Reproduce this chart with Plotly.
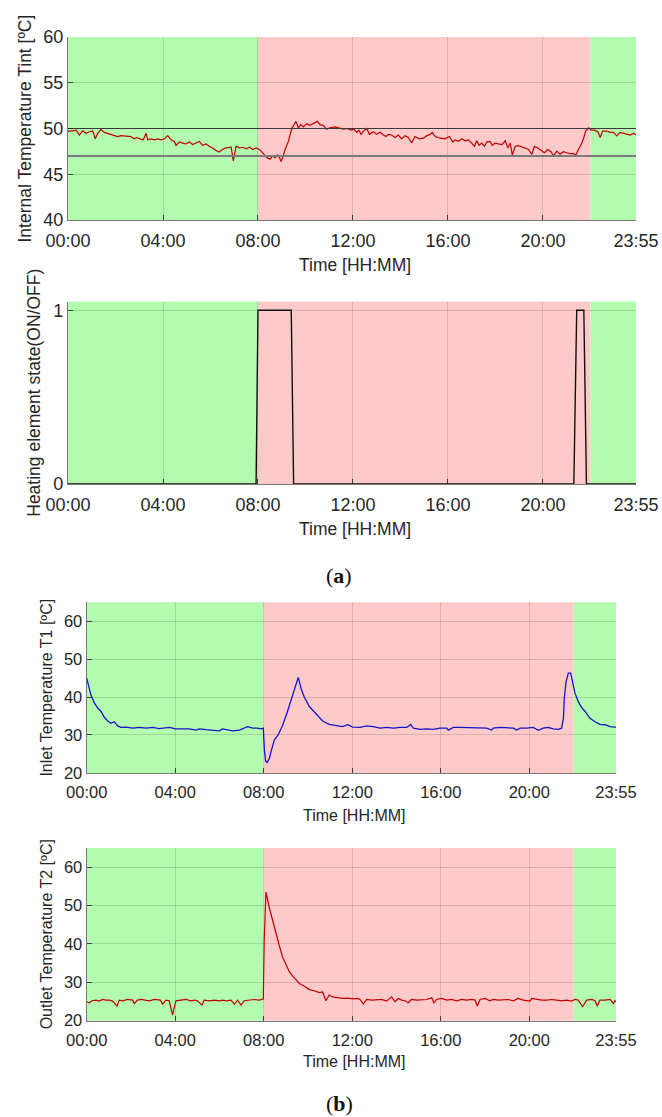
import plotly.graph_objects as go

W, H = 662, 1117
X_END = 23 + 55 / 60
tick_vals = [0, 4, 8, 12, 16, 20, X_END]
tick_text = ["00:00", "04:00", "08:00", "12:00", "16:00", "20:00", "23:55"]

# tariff periods (green = off-peak, red = peak)
period_edges = [0, 8, 22, X_END]
period_colors = ["#B3FBAE", "#FDC9C9", "#B3FBAE"]

# Panel (a) top: internal temperature
t_int = [0.00, 0.06, 0.20, 0.34, 0.48, 0.62, 0.76, 0.90, 1.04, 1.15, 1.25, 1.39, 1.53, 1.67, 1.81, 1.95,
         2.09, 2.23, 2.37, 2.51, 2.65, 2.79, 2.89, 3.03, 3.17, 3.29, 3.36, 3.50, 3.64, 3.78, 3.92, 4.06,
         4.20, 4.34, 4.48, 4.55, 4.69, 4.83, 4.97, 5.11, 5.25, 5.39, 5.53, 5.67, 5.81, 5.95, 6.09, 6.23,
         6.36, 6.50, 6.65, 6.87, 6.96, 7.08, 7.22, 7.36, 7.50, 7.64, 7.78, 7.92, 8.06,
         8.23, 8.37, 8.51, 8.62, 8.72, 8.82, 8.90, 8.97, 9.04, 9.14, 9.28, 9.42, 9.49, 9.60, 9.70,
         9.80, 9.91, 10.05, 10.19, 10.33, 10.50, 10.61, 10.75, 10.89, 11.03, 11.24, 11.45, 11.59, 11.76,
         11.90, 12.04, 12.16, 12.25, 12.34, 12.44, 12.58, 12.69, 12.86, 13.00, 13.14, 13.28, 13.39, 13.49,
         13.63, 13.77, 13.91, 14.05, 14.19, 14.33, 14.47, 14.61, 14.80, 14.96, 15.11, 15.25, 15.34, 15.46,
         15.67, 15.88, 16.06, 16.20,
         16.30, 16.44, 16.58, 16.72, 16.86, 17.00, 17.11, 17.21, 17.31, 17.42, 17.54, 17.63, 17.77, 17.87,
         17.98, 18.13, 18.27, 18.41, 18.52, 18.62, 18.71, 18.83, 18.97, 19.11, 19.25, 19.39, 19.53, 19.64,
         19.78, 19.92, 20.06, 20.20, 20.34, 20.44, 20.58, 20.72, 20.86, 21.00, 21.14, 21.28, 21.38, 21.49,
         21.61, 21.71, 21.80, 21.92, 22.03, 22.17, 22.31, 22.41, 22.51, 22.69, 22.83, 22.97, 23.11, 23.25,
         23.39, 23.53, 23.67, 23.81, 23.92]
v_int = [49.65, 49.75, 49.75, 49.82, 49.29, 49.75, 49.47, 49.65, 49.72, 48.87, 49.47, 49.89, 49.58, 49.47, 49.36, 49.29,
         49.12, 49.22, 49.19, 49.12, 49.12, 48.87, 49.01, 48.87, 48.76, 49.47, 48.76, 48.87, 48.76, 48.87, 48.76, 48.87,
         49.22, 48.76, 48.59, 48.16, 48.52, 48.41, 48.31, 48.52, 48.24, 48.41, 48.59, 48.16, 48.31, 48.06, 47.88, 47.60,
         47.42, 47.71, 47.88, 47.95, 46.47, 48.06, 47.88, 47.95, 47.78, 47.95, 47.71, 47.88, 47.71,
         47.25, 46.82, 46.65, 47.00, 46.82, 47.11, 46.82, 46.40, 46.82, 47.70, 48.59, 50.00, 50.28, 50.78, 50.07,
         50.42, 50.18, 50.53, 50.35, 50.53, 50.78, 50.42, 50.35, 49.93, 50.07, 50.18, 50.07, 49.93, 50.00,
         49.82, 49.93, 49.58, 49.82, 49.36, 49.72, 50.00, 49.36, 49.65, 49.36, 49.58, 49.29, 49.12, 49.36,
         49.29, 49.01, 49.29, 48.87, 49.22, 49.01, 48.41, 49.12, 48.87, 48.94, 49.22, 49.36, 49.58, 49.12,
         48.94, 48.87, 49.12, 48.52,
         48.76, 48.59, 48.87, 48.66, 48.76, 48.41, 48.06, 48.66, 48.16, 48.41, 48.06, 48.52, 48.59, 48.16,
         48.41, 48.31, 48.24, 48.66, 47.88, 48.41, 47.10, 48.06, 48.13, 47.99, 47.88, 47.71, 47.18, 48.06,
         47.88, 47.60, 47.35, 47.71, 47.46, 47.00, 47.53, 47.18, 47.46, 47.35, 47.25, 47.25, 47.10, 47.71,
         48.24, 48.94, 49.72, 50.07, 49.82, 49.82, 49.65, 49.01, 49.72, 49.72, 49.58, 49.58, 49.19, 49.58,
         49.47, 49.36, 49.29, 49.47, 49.29]
limit_high = 50
limit_low = 47

# Panel (a) bottom: heating element state
t_heat = [0, 7.92, 8.00, 9.40, 9.50, 21.30, 21.42, 21.72, 21.83, X_END]
v_heat = [0, 0, 1, 1, 0, 0, 1, 1, 0, 0]

# Panel (b) top: inlet temperature T1
t_in = [0.00, 0.09, 0.19, 0.35, 0.50, 0.65, 0.80, 0.95, 1.10, 1.25, 1.40, 1.55, 1.78, 2.08, 2.38, 2.68,
        2.98, 3.28, 3.58, 3.73, 4.03, 4.34, 4.64, 4.94, 5.09, 5.39, 5.69, 5.99, 6.14, 6.44, 6.59, 6.90,
        7.12, 7.27, 7.50, 7.72, 7.87, 7.98, 8.03, 8.08, 8.15, 8.25, 8.35, 8.48, 8.65, 8.85, 9.05, 9.25,
        9.43, 9.56, 9.70, 9.83, 10.06, 10.36, 10.66, 10.96, 11.26, 11.56, 11.79, 12.02, 12.35, 12.65,
        12.95, 13.25, 13.55, 13.86, 14.16, 14.46, 14.58, 14.64, 14.76, 15.06, 15.36, 15.66, 15.96, 16.27,
        16.34, 16.57, 16.87, 17.17, 17.47, 17.77, 18.07, 18.30, 18.37, 18.68, 18.98, 19.28, 19.43, 19.58,
        19.88, 20.18, 20.41, 20.63, 20.86, 21.08, 21.31, 21.46, 21.54, 21.58, 21.66, 21.76, 21.87, 21.96,
        22.06, 22.21, 22.36, 22.52, 22.74, 22.97, 23.19, 23.42, 23.65, 23.87, 23.92]
v_in = [45.0, 42.8, 40.6, 38.4, 37.1, 36.2, 34.6, 33.7, 33.1, 33.5, 32.4, 32.0, 32.1, 31.8, 32.0, 31.8,
        32.0, 31.7, 31.8, 32.0, 31.6, 31.5, 31.6, 31.3, 31.6, 31.4, 31.3, 31.1, 31.6, 31.3, 31.1, 31.3,
        31.8, 32.2, 31.8, 31.8, 31.6, 31.8, 26.0, 23.2, 22.7, 23.8, 26.0, 28.7, 30.0, 32.5, 35.8, 39.5,
        42.8, 45.2, 42.0, 40.0, 37.5, 35.7, 33.7, 32.8, 32.5, 32.2, 32.7, 32.1, 32.0, 32.4,
        32.2, 31.8, 32.0, 31.8, 32.0, 32.0, 32.5, 32.8, 31.8, 31.5, 31.6, 31.5, 31.8, 31.8,
        31.3, 32.0, 32.0, 32.0, 31.9, 31.8, 31.8, 31.3, 31.8, 32.0, 32.0, 31.8, 31.3, 31.8,
        31.8, 32.0, 31.25, 31.8, 32.0, 31.6, 31.5, 31.8, 34.4, 39.7, 44.0, 46.3, 46.3, 44.0,
        41.1, 38.8, 37.3, 36.2, 34.4, 33.5, 32.8, 32.7, 32.2, 32.1, 32.1]

# Panel (b) bottom: outlet temperature T2
t_out = [0.00, 0.12, 0.24, 0.42, 0.57, 0.72, 0.87, 1.02, 1.17, 1.37, 1.47, 1.63, 1.85, 2.08, 2.15, 2.30,
         2.45, 2.60, 2.83, 3.06, 3.33, 3.43, 3.58, 3.73, 3.88, 4.03, 4.26, 4.49, 4.71, 4.86, 5.01, 5.21,
         5.31, 5.54, 5.77, 5.99, 6.14, 6.29, 6.52, 6.67, 6.82, 6.97, 7.12, 7.35, 7.57, 7.80, 7.98, 8.02,
         8.06, 8.10, 8.25, 8.40, 8.55, 8.70, 8.85, 9.00, 9.16, 9.31, 9.46, 9.61, 9.83, 10.06, 10.28, 10.51,
         10.66, 10.81, 10.96, 11.11, 11.34, 11.56, 11.79, 12.02, 12.24, 12.35, 12.50, 12.65, 12.88, 13.10,
         13.33, 13.55, 13.78, 13.93, 14.08, 14.23, 14.38, 14.53, 14.68, 14.91, 15.14, 15.36, 15.59, 15.69,
         15.81, 16.04, 16.27, 16.49, 16.72, 16.94, 17.17, 17.40, 17.55, 17.65, 17.77, 18.00, 18.22, 18.37,
         18.60, 18.83, 19.05, 19.28, 19.50, 19.73, 19.88, 20.03, 20.11, 20.33, 20.56, 20.78, 21.01, 21.24,
         21.46, 21.69, 21.91, 22.06, 22.21, 22.41, 22.59, 22.82, 22.97, 23.07, 23.19, 23.42, 23.65, 23.80,
         23.87, 23.92]
v_out = [24.93, 24.67, 25.19, 25.36, 25.10, 25.53, 25.36, 25.36, 25.10, 23.81, 25.36, 25.19, 25.53, 25.36, 24.50, 25.36,
         25.53, 25.36, 25.19, 25.53, 25.36, 24.33, 25.36, 25.19, 21.5, 25.19, 25.36, 25.53, 25.19, 25.36, 25.19, 24.07,
         25.36, 25.19, 25.36, 25.19, 25.36, 25.19, 25.36, 24.33, 25.36, 24.07, 25.19, 25.36, 25.53, 25.36, 25.62, 40.9,
         51.7, 53.5, 49.5, 46.0, 42.6, 39.6, 36.6, 34.8, 32.7, 31.6, 30.5, 29.7, 29.0, 28.1, 27.8, 27.3,
         27.5, 25.2, 26.7, 26.2, 26.0, 25.8, 25.9, 25.7, 25.8, 25.53, 24.33, 25.53, 25.36, 25.36,
         25.53, 25.10, 26.22, 24.93, 25.79, 25.36, 25.19, 24.67, 25.53, 25.36, 25.36, 25.53, 25.96, 24.67,
         25.53, 25.79, 25.36, 25.53, 25.19, 25.53, 25.36, 25.53, 25.36, 23.81, 25.53, 25.79, 25.19, 25.53,
         25.36, 25.36, 25.53, 25.19, 25.79, 25.36, 25.19, 25.10, 25.79, 25.53, 25.36, 25.36, 25.53, 25.36,
         25.19, 25.36, 25.10, 25.53, 25.36, 23.64, 25.36, 25.53, 25.19, 23.81, 25.36, 25.36, 25.53, 24.50,
         25.19, 24.90]

assert len(t_int) == len(v_int), (len(t_int), len(v_int))
assert len(t_in) == len(v_in), (len(t_in), len(v_in))
assert len(t_out) == len(v_out), (len(t_out), len(v_out))

FONT = "Liberation Sans"
TXT = "#262626"


def dx(a, b):
    return [a / W, b / W]


def dy(top, bottom):
    return [1 - bottom / H, 1 - top / H]


panels = [
    dict(x=(68, 636), y=(37, 220), yr=[40, 60], yt=[40, 45, 50, 55, 60],
         ylab="Internal Temperature Tint [ºC]", fs=18, ylx=24, xt=265),
    dict(x=(68, 636), y=(301.5, 484), yr=[0, 1.05], yt=[0, 1],
         ylab="Heating element state(ON/OFF)", fs=18, ylx=34, xt=529),
    dict(x=(86.7, 616), y=(602.3, 772.9), yr=[20, 65], yt=[20, 30, 40, 50, 60],
         ylab="Inlet Temperature T1 [ºC]", fs=16.5, ylx=47, xt=815),
    dict(x=(86.7, 616), y=(848, 1020.7), yr=[20, 65], yt=[20, 30, 40, 50, 60],
         ylab="Outlet Temperature T2 [ºC]", fs=16.5, ylx=46, xt=1061),
]

fig = go.Figure()
layout = dict(width=W, height=H, margin=dict(l=0, r=0, t=0, b=0, autoexpand=False),
              paper_bgcolor="white", plot_bgcolor="white", showlegend=False,
              font=dict(family=FONT, color=TXT))
shapes = []
annotations = []

series = [
    (t_int, v_int, "#C00000", 1.2),
    (t_heat, v_heat, "#111111", 1.4),
    (t_in, v_in, "#1414C8", 1.3),
    (t_out, v_out, "#C00000", 1.2),
]

for i, p in enumerate(panels):
    n = "" if i == 0 else str(i + 1)
    xa, ya = "x" + n, "y" + n
    layout["xaxis" + n] = dict(
        domain=dx(*p["x"]), range=[0, X_END], anchor=ya, automargin=False,
        tickmode="array", tickvals=tick_vals, ticktext=tick_text,
        ticks="inside", ticklen=5, tickcolor="rgba(30,30,30,0.8)", tickwidth=1,
        showgrid=True, gridcolor="rgba(0,0,0,0.13)", gridwidth=1,
        showline=True, linecolor="rgba(30,30,30,0.6)", linewidth=1.3,
        zeroline=False, tickfont=dict(size=p["fs"], color=TXT, family=FONT),
        ticklabelstandoff=4, fixedrange=True)
    layout["yaxis" + n] = dict(
        domain=dy(*p["y"]), range=p["yr"], anchor=xa, automargin=False,
        tickmode="array", tickvals=p["yt"],
        ticks="inside", ticklen=5, tickcolor="rgba(30,30,30,0.8)", tickwidth=1,
        showgrid=True, gridcolor="rgba(0,0,0,0.13)", gridwidth=1,
        showline=True, linecolor="rgba(30,30,30,0.6)", linewidth=1.3,
        zeroline=False, tickfont=dict(size=p["fs"], color=TXT, family=FONT),
        fixedrange=True)
    for k in range(3):
        shapes.append(dict(type="rect", xref=xa, yref=ya + " domain",
                           x0=period_edges[k], x1=period_edges[k + 1], y0=0, y1=1,
                           fillcolor=period_colors[k], line=dict(width=0), layer="below"))
    tx, tv, col, lw = series[i]
    fig.add_trace(go.Scatter(x=tx, y=tv, mode="lines", xaxis=xa, yaxis=ya,
                             line=dict(color=col, width=lw), hoverinfo="skip"))
    xc = (p["x"][0] + p["x"][1]) / 2
    annotations.append(dict(text="Time [HH:MM]", xref="paper", yref="paper",
                            x=(xc + 3) / W, y=1 - p["xt"] / H,
                            showarrow=False, xanchor="center", yanchor="middle",
                            font=dict(size=p["fs"] - 0.5, color=TXT, family=FONT)))
    yc = (p["y"][0] + p["y"][1]) / 2
    annotations.append(dict(text=p["ylab"], xref="paper", yref="paper",
                            x=p["ylx"] / W, y=1 - yc / H, textangle=-90,
                            showarrow=False, xanchor="center", yanchor="middle",
                            font=dict(size=p["fs"] - 0.5, color=TXT, family=FONT)))

# threshold lines in the internal temperature panel
for val, col, lw in [(limit_high, "#3a3a3a", 1.2), (limit_low, "#7a7a7a", 2.0)]:
    fig.add_trace(go.Scatter(x=[0, X_END], y=[val, val], mode="lines", xaxis="x", yaxis="y",
                             line=dict(color=col, width=lw), hoverinfo="skip"))

for lab, ypx in [("a", 575), ("b", 1103)]:
    annotations.append(dict(text="(<b>%s</b>)" % lab, xref="paper", yref="paper",
                            x=339 / W, y=1 - ypx / H, showarrow=False,
                            xanchor="center", yanchor="middle",
                            font=dict(size=22, color="#111111", family="Liberation Serif")))

layout["shapes"] = shapes
layout["annotations"] = annotations
fig.update_layout(**layout)
fig.write_html("out.html")
